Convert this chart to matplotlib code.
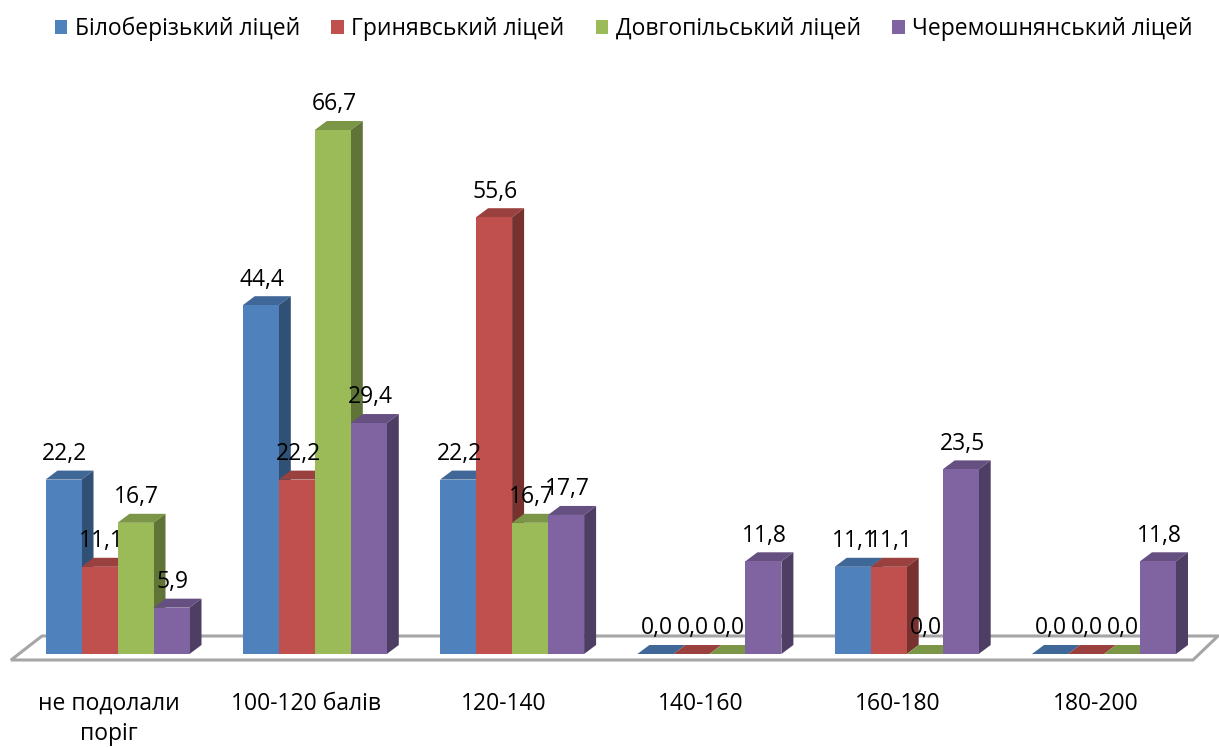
import matplotlib
matplotlib.use("Agg")
import matplotlib.pyplot as plt
from matplotlib.patches import Polygon, Patch
from matplotlib.colors import to_rgb

categories = ['не подолали\nпоріг', '100-120 балів', '120-140', '140-160', '160-180', '180-200']
bilobereg = [22.2, 44.4, 22.2, 0.0, 11.1, 0.0]
hrynyava = [11.1, 22.2, 55.6, 0.0, 11.1, 0.0]
dovhopil = [16.7, 66.7, 16.7, 0.0, 0.0, 0.0]
cheremosh = [5.9, 29.4, 17.7, 11.8, 23.5, 11.8]

series_names = ['Білоберізький ліцей', 'Гринявський ліцей', 'Довгопільський ліцей', 'Черемошнянський ліцей']
series = [bilobereg, hrynyava, dovhopil, cheremosh]
colors = ['#4F81BD', '#C0504D', '#9BBB59', '#8064A2']

plt.rcParams['font.family'] = ['Open Sans', 'DejaVu Sans']

W, H = 1219, 747
fig = plt.figure(figsize=(W / 100, H / 100), dpi=100)
ax = fig.add_axes([0, 0, 1, 1])

# scale: 197.3 px between groups, 7.856 px per unit, base line at y=654
px_x = 197.3
px_y = 7.856
ax.set_xlim(-117.5 / px_x, (W - 117.5) / px_x)
ax.set_ylim((654 - H) / px_y, 654 / px_y)
ax.axis('off')

def X(px):
    return (px - 117.5) / px_x

def Y(px):
    return (654 - px) / px_y

def shade(c, k):
    return tuple(v * k for v in to_rgb(c))

# floor
floor = Polygon([(X(11), Y(660)), (X(42), Y(636)), (X(1218), Y(636)), (X(1193), Y(660))],
                closed=True, facecolor='white', edgecolor='#A6A6A6', linewidth=2.2, zorder=1)
ax.add_patch(floor)

bar_w = 36 / px_x
dx = 12 / px_x
dy = 9 / px_y
z = 2
for i in range(len(categories)):
    for j, vals in enumerate(series):
        v = vals[i]
        left = i + (j - 2) * bar_w
        top = Polygon([(left, v), (left + dx, v + dy), (left + bar_w + dx, v + dy), (left + bar_w, v)],
                      closed=True, facecolor=shade(colors[j], 0.8), edgecolor='none', zorder=z)
        side = Polygon([(left + bar_w, 0), (left + bar_w + dx, dy), (left + bar_w + dx, v + dy), (left + bar_w, v)],
                       closed=True, facecolor=shade(colors[j], 0.62), edgecolor='none', zorder=z)
        ax.add_patch(top)
        if v > 0:
            ax.add_patch(side)
        ax.bar(left, v, width=bar_w, align='edge', color=colors[j], zorder=z + 0.5)
        z += 1

# data labels on top of everything
for i in range(len(categories)):
    for j, vals in enumerate(series):
        v = vals[i]
        left = i + (j - 2) * bar_w
        ax.annotate(('%.1f' % v).replace('.', ','), (left + bar_w / 2, v), xytext=(1, 18.4),
                    textcoords='offset points', ha='center', va='center',
                    fontsize=16.5, color='black', zorder=500)

for i, c in enumerate(categories):
    ax.text(i - 8.5 / px_x, Y(692), c, ha='center', va='top', fontsize=16.5,
            linespacing=1.36, color='black', zorder=500)

handles = [Patch(facecolor=c) for c in colors]
ax.legend(handles, series_names, ncol=4, loc='upper left', bbox_to_anchor=(50 / W, 1 - 12 / H),
          frameon=False, fontsize=16.5, handlelength=0.55, handleheight=0.55, handletextpad=0.33,
          columnspacing=1.36, borderaxespad=0.2, borderpad=0.0)

fig.savefig('out.png', dpi=100)
